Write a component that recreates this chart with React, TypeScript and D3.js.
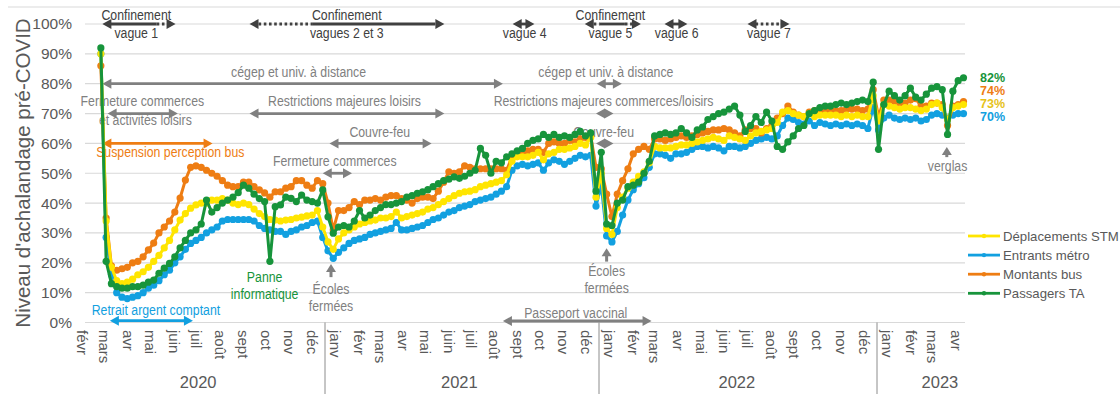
import React from "react";
import * as d3 from "d3";

// ---------- DATA ----------
const monthNames = ["janv", "févr", "mars", "avr", "mai", "juin", "juil", "août", "sept", "oct", "nov", "déc"];
const yearLabels = ["2020", "2021", "2022", "2023"];
const yearLabelDates = ["2020-07-17", "2021-06-29", "2022-07-01", "2023-03-25"];
const yearBreaks = ["2021-01-01", "2022-01-01", "2023-01-01"];
const yTicks = [0, 10, 20, 30, 40, 50, 60, 70, 80, 90, 100];
const firstWeek = "2020-03-10";
const seriesNames = ["Déplacements STM", "Entrants métro", "Montants bus", "Passagers TA"];

const deplacementsSTM = [
  90, 34, 18.5, 14, 13, 13.5, 14.5, 16, 17, 18.5,
  20.5, 22.5, 25, 27.5, 31, 34.3, 36.5, 38.3, 39.4, 40,
  40, 41, 41, 41.5, 41, 40, 39.5, 40, 39.5, 38,
  36.5, 35.5, 34.5, 34.3, 34, 34.3, 34.5, 35, 35.3, 35.7,
  36, 37.5, 32, 27, 24.5, 28, 30, 31, 32, 33,
  33.5, 34, 34.3, 35, 35, 35.5, 37, 35, 35.5, 36,
  36.5, 37, 38, 38.5, 39.5, 40.5, 41.5, 42.5, 43.3, 43.8,
  44, 44.5, 45.5, 46, 46.5, 47, 47.5, 49.5, 54, 55.5,
  55.5, 55.5, 56, 57, 54.5, 56.5, 57, 58, 58, 58.5,
  59, 60, 59.5, 62, 42, 50, 31.5, 29.5, 38.5, 42,
  45, 47, 49, 50.5, 53.5, 59, 58.5, 58.5, 58.5, 59,
  59.5, 59.5, 60, 60.5, 61, 61.5, 62, 61.5, 61, 62.5,
  62, 61.5, 61, 62.5, 63.5, 64, 64.5, 65, 67, 70.5,
  71, 70, 69.5, 69, 70, 69, 69.5, 69.5, 69.5, 69.5,
  69, 69.5, 69, 69.5, 69, 69, 76,
  67.5, 73, 72.5, 72, 71.5, 72, 72, 71.5, 71, 71.5, 73, 73.5, 72, 68, 72, 72.5, 73,
];

const entrantsMetro = [
  90, 28.5, 16, 10, 8.5, 8, 8.5, 9, 10, 11.5,
  12.5, 14, 16, 17.5, 20, 22, 24.5, 26.5, 27.5, 28.5,
  30, 31, 32, 34, 34.5, 34.5, 34.5, 34.5, 34.5, 34,
  32.5, 31.5, 31, 30.5, 30.5, 29.5, 30.5, 31, 32, 32.5,
  33.5, 34, 28.5, 24, 21.5, 23.5, 25, 26.5, 27.5, 28,
  28.5, 29.5, 30, 30.5, 31, 31.5, 33.5, 31, 31, 31.5,
  32, 32.5, 33.5, 34.5, 35, 36, 37, 37.5, 38.5, 39,
  39.5, 40.5, 41, 41.5, 42, 43, 44, 45.5, 51, 52.5,
  53, 52.5, 53, 53.5, 51, 53.5, 54.5, 54, 53, 54,
  55, 56, 55.5, 56, 39, 46, 29, 27, 30.5, 36,
  41, 44.5, 46.5, 48.5, 52, 56.5, 56.5, 56, 55, 56.5,
  56.5, 57, 58, 59, 59, 58.5, 59, 58.5, 57.5, 59,
  59, 58.5, 59, 60, 61, 61.5, 62, 61.5, 62.5, 66,
  68.5, 68, 67, 66.5, 67.5, 66, 67, 66.5, 66, 66.5,
  66, 66.5, 66, 66.5, 66, 65, 72,
  64.5, 68.5, 69.5, 68.5, 68, 68.5, 68, 68.5, 67.5, 68, 69.5, 70, 69.5, 68.5, 69.5, 70, 70,
];

const montantsBus = [
  86, 35, 19, 17.5, 18, 18.5, 20, 20.5, 22, 24.3,
  26.6, 30, 32, 34, 37, 41.7, 47.7, 52, 52.5, 52,
  51, 50, 49, 47.5, 46, 45.5, 45.5, 47, 47, 45.5,
  44.4, 43.4, 42, 43.8, 43.8, 45, 45.5, 47.5, 47.5, 46,
  45, 47.5, 46.5, 40, 31, 37.5, 37.5, 38.5, 40.5, 39.5,
  41, 41, 41.5, 41, 42, 42.5, 42.5, 41.5, 41, 40,
  41.5, 42, 42, 41.5, 44, 47, 50.5, 50, 50.5, 52.5,
  52, 51.5, 51.5, 51.5, 51.5, 51.5, 51.5, 51, 55.5, 56,
  57, 57.5, 58, 58, 57, 60, 60.5, 60, 60, 61,
  60.5, 61.5, 62, 62.5, 52, 51.5, 43, 35.5, 43, 47.5,
  51.5, 56.5, 58, 59, 58, 61.5, 61.5, 61, 61.5, 62,
  62.5, 62, 62.5, 63, 63.5, 64, 64.5, 64.5, 65, 64.5,
  63.5, 62.5, 64.5, 65, 65, 63.5, 65, 66, 68.5, 70,
  72.5, 70.5, 69.5, 69, 70.5, 71, 70.5, 71, 70.5, 71,
  71, 71.5, 71.5, 71.5, 71, 71.5, 78,
  69, 74.5, 74.5, 74, 73.5, 73.5, 74.5, 75, 72.5, 72.5, 73.5, 73.5, 73, 66, 72.5, 73, 74,
];

const passagersTA = [
  92, 20.5, 13, 12, 11.5, 11.5, 12, 12, 12.5, 13.5,
  14.2, 16.5, 18.2, 19.8, 22, 25, 27.5, 30, 31, 33,
  41, 37, 38.5, 40, 41, 42, 43.5, 46, 45, 43,
  41.5, 40.5, 20.5, 38.8, 39.4, 42, 41.6, 40.5, 42.7, 41,
  40.5, 40, 44.4, 35.4, 29.9, 32, 32.5, 32, 34, 37.5,
  35, 36, 37.5, 38.5, 39.5, 39.5, 40, 40.5, 42, 42.5,
  43.3, 43.8, 44.5, 45.5, 46.5, 47.5, 48, 48.8, 48.3, 49,
  50, 51, 58.3, 56, 50, 54, 53.5, 55.5, 56.5, 57.5,
  58.3, 60, 61, 61.5, 63, 62, 63, 62, 62.5, 62,
  63, 64, 62.5, 63.5, 44, 57, 33, 32.5, 40, 41,
  45.5, 46, 47, 50, 54, 62.5, 63, 63.5, 63, 63.5,
  65, 63.5, 62, 64.5, 65.5, 68, 69, 70, 70.5, 71.5,
  72.5, 69.5, 64, 66, 69, 67, 70.5, 67.5, 59, 58,
  60.5, 62.5, 65, 66, 70, 71, 72, 72.5, 72.5, 73,
  73.5, 73, 73.5, 74, 74.5, 74, 80.5,
  58, 73, 77.5, 76, 74.5, 76, 78.5, 75.5, 74.5, 76.5, 78.5, 79, 78, 63, 77.5, 81, 82,
];

// ---------- ANNOTATIONS ----------
type Seg = [string, string, boolean];
type Arrow = { level: number; from: string; to: string; color: string; segs?: Seg[] };

const DARK = "#404040";
const GRAY = "#808080";
const C_YELLOW = "#FFE500";
const C_BLUE = "#12A0E0";
const C_ORANGE = "#EE7D13";
const C_GREEN = "#17943B";

const arrows: Arrow[] = [
  { level: 100, from: "2020-03-12", to: "2020-06-17", color: DARK, segs: [["2020-03-12", "2020-05-23", false], ["2020-05-23", "2020-06-05", true]] },
  { level: 100, from: "2020-09-23", to: "2021-06-09", color: DARK, segs: [["2020-10-05", "2020-12-16", true], ["2020-12-16", "2021-05-28", false]] },
  { level: 100, from: "2021-09-08", to: "2021-10-07", color: DARK },
  { level: 100, from: "2021-12-13", to: "2022-02-25", color: DARK, segs: [["2021-12-25", "2022-01-02", true], ["2022-01-02", "2022-02-04", false], ["2022-02-04", "2022-02-14", true]] },
  { level: 100, from: "2022-03-28", to: "2022-04-27", color: DARK },
  { level: 100, from: "2022-07-15", to: "2022-09-08", color: DARK, segs: [["2022-07-15", "2022-09-08", true]] },
  { level: 80, from: "2020-03-12", to: "2021-08-26", color: GRAY },
  { level: 80, from: "2021-12-29", to: "2022-01-31", color: GRAY },
  { level: 70, from: "2020-03-19", to: "2020-06-20", color: GRAY },
  { level: 70, from: "2020-09-23", to: "2021-06-09", color: GRAY },
  { level: 70, from: "2021-12-28", to: "2022-01-20", color: GRAY },
  { level: 60, from: "2021-01-07", to: "2021-05-23", color: GRAY },
  { level: 60, from: "2021-12-28", to: "2022-01-20", color: GRAY },
  { level: 50, from: "2020-12-29", to: "2021-02-06", color: GRAY },
  { level: 60, from: "2020-03-12", to: "2020-08-05", color: C_ORANGE },
  { level: 0.6, from: "2020-03-22", to: "2020-07-10", color: C_BLUE },
  { level: 0.5, from: "2021-08-26", to: "2022-03-11", color: GRAY },
];

const upArrows = [
  { date: "2021-01-09", tip: 19.6, base: 15.2 },
  { date: "2022-01-11", tip: 24.9, base: 20.4 },
  { date: "2023-04-03", tip: 58.8, base: 55.4 },
];

const notes = [
  { t: "Confinement", d: "2020-04-26", v: 103, c: DARK },
  { t: "vague 1", d: "2020-04-26", v: 97, c: DARK },
  { t: "Confinement", d: "2021-01-30", v: 103, c: DARK },
  { t: "vagues 2 et 3", d: "2021-01-30", v: 97, c: DARK },
  { t: "vague 4", d: "2021-09-24", v: 97, c: DARK },
  { t: "Confinement", d: "2022-01-16", v: 103, c: DARK },
  { t: "vague 5", d: "2022-01-16", v: 97, c: DARK },
  { t: "vague 6", d: "2022-04-13", v: 97, c: DARK },
  { t: "vague 7", d: "2022-08-12", v: 97, c: DARK },
  { t: "cégep et univ. à distance", d: "2020-11-27", v: 84, c: GRAY },
  { t: "cégep et univ. à distance", d: "2022-01-10", v: 84, c: GRAY },
  { t: "Fermeture commerces", d: "2020-05-04", v: 74.2, c: GRAY },
  { t: "et activités loisirs", d: "2020-05-08", v: 67.8, c: GRAY },
  { t: "Restrictions majeures loisirs", d: "2021-01-27", v: 74.2, c: GRAY },
  { t: "Restrictions majeures commerces/loisirs", d: "2022-01-07", v: 74.2, c: GRAY },
  { t: "Couvre-feu", d: "2021-03-15", v: 64, c: GRAY },
  { t: "Couvre-feu", d: "2022-01-07", v: 64, c: GRAY },
  { t: "Fermeture commerces", d: "2021-01-14", v: 54.1, c: GRAY },
  { t: "Suspension perception bus", d: "2020-06-10", v: 57.1, c: C_ORANGE },
  { t: "Panne", d: "2020-10-13", v: 15.2, c: C_GREEN },
  { t: "informatique", d: "2020-10-13", v: 9.5, c: C_GREEN },
  { t: "Écoles", d: "2021-01-09", v: 11.4, c: GRAY },
  { t: "fermées", d: "2021-01-09", v: 5.5, c: GRAY },
  { t: "Écoles", d: "2022-01-11", v: 17.4, c: GRAY },
  { t: "fermées", d: "2022-01-11", v: 11.5, c: GRAY },
  { t: "verglas", d: "2023-04-04", v: 52.4, c: GRAY },
  { t: "Retrait argent comptant", d: "2020-05-22", v: 4.4, c: C_BLUE },
  { t: "Passeport vaccinal", d: "2021-12-01", v: 3.3, c: GRAY },
];

// ---------- LAYOUT ----------
const W = 1120;
const H = 401;
const parse = d3.timeParse("%Y-%m-%d") as (s: string) => Date;

const x = d3
  .scaleTime()
  .domain([parse("2020-02-18"), parse("2021-01-01"), parse("2022-01-01"), parse("2023-01-01"), parse("2023-04-27")])
  .range([85, 325, 599, 877, 965]);
const y = d3.scaleLinear().domain([0, 100]).range([322.5, 24]);

const start = parse(firstWeek);
const dates = deplacementsSTM.map((_, i) => d3.timeDay.offset(start, 7 * i));

const series = [
  { name: seriesNames[0], values: deplacementsSTM, color: C_YELLOW, label: "#E6C21A" },
  { name: seriesNames[1], values: entrantsMetro, color: C_BLUE, label: C_BLUE },
  { name: seriesNames[2], values: montantsBus, color: C_ORANGE, label: C_ORANGE },
  { name: seriesNames[3], values: passagersTA, color: C_GREEN, label: C_GREEN },
];
const drawOrder = [1, 2, 0, 3];

const AXIS = "#595959";
const GRID = "#d9d9d9";
const FONT = "'Liberation Sans', Arial, sans-serif";

function HArrow({ a }: { a: Arrow }) {
  const hl = 9;
  const hw = 5;
  const x1 = x(parse(a.from));
  const x2 = x(parse(a.to));
  const yy = y(a.level);
  const segs: Seg[] = a.segs ?? [[a.from, a.to, false]];
  return (
    <g>
      {segs.map((s, i) => {
        const sx = Math.max(x(parse(s[0])), x1 + hl - 1);
        const ex = Math.min(x(parse(s[1])), x2 - hl + 1);
        if (ex <= sx) return null;
        return (
          <line key={i} x1={sx} x2={ex} y1={yy} y2={yy} stroke={a.color} strokeWidth={2.8}
            strokeDasharray={s[2] ? "2.6 2.6" : undefined} />
        );
      })}
      <polygon points={`${x1},${yy} ${x1 + hl},${yy - hw} ${x1 + hl},${yy + hw}`} fill={a.color} />
      <polygon points={`${x2},${yy} ${x2 - hl},${yy - hw} ${x2 - hl},${yy + hw}`} fill={a.color} />
    </g>
  );
}

export default function App() {
  const line = d3
    .line<number>()
    .x((_, i) => x(dates[i]))
    .y((d) => y(d));

  const months = d3.timeMonth.range(parse("2020-02-01"), parse("2023-05-01"));
  const endLabelY = [117, 103.6, 90.4, 77.4];

  return (
    <svg width={W} height={H} style={{ position: "absolute", left: 0, top: 0, background: "#fff" }} fontFamily={FONT}>
      <line x1={8} x2={W} y1={7} y2={7} stroke={GRID} strokeWidth={1} />
      {/* gridlines */}
      {yTicks.map((t) => (
        <g key={t}>
          <line x1={85} x2={965} y1={y(t)} y2={y(t)} stroke={GRID} strokeWidth={1.2} />
          <text x={72} y={y(t)} dy="0.35em" textAnchor="end" fontSize={15.5} fill={AXIS}>{`${t}%`}</text>
        </g>
      ))}
      <text transform={`translate(23,${173}) rotate(-90)`} textAnchor="middle" dy="0.35em" fontSize={20.5} fill={AXIS}>
        Niveau d'achalandage pré-COVID
      </text>

      {/* x axis month labels */}
      {months.map((m, i) => (
        <text key={i} transform={`translate(${x(d3.timeDay.offset(m, 14))},330) rotate(90)`} dy="0.35em"
          textAnchor="start" fontSize={15} fill={AXIS}>
          {monthNames[m.getMonth()]}
        </text>
      ))}
      {yearBreaks.map((d) => (
        <line key={d} x1={x(parse(d))} x2={x(parse(d))} y1={322.5} y2={394} stroke="#8c8c8c" strokeWidth={1} />
      ))}
      {yearLabels.map((yl, i) => (
        <text key={yl} x={x(parse(yearLabelDates[i]))} y={382} dy="0.35em" textAnchor="middle" fontSize={16.5} fill={AXIS}>
          {yl}
        </text>
      ))}

      {/* annotations */}
      {arrows.map((a, i) => (
        <HArrow key={i} a={a} />
      ))}
      {upArrows.map((u, i) => {
        const ux = x(parse(u.date));
        const ty = y(u.tip);
        const by = y(u.base);
        return (
          <g key={i}>
            <line x1={ux} x2={ux} y1={by} y2={ty + 6} stroke={GRAY} strokeWidth={3} />
            <polygon points={`${ux},${ty} ${ux - 5},${ty + 8} ${ux + 5},${ty + 8}`} fill={GRAY} />
          </g>
        );
      })}
      {notes.map((n, i) => (
        <text key={i} transform={`translate(${x(parse(n.d))},${y(n.v)}) scale(0.82,1)`} dy="0.35em"
          textAnchor="middle" fontSize={15} fill={n.c}>
          {n.t}
        </text>
      ))}

      {/* series */}
      {drawOrder.map((si) => {
        const s = series[si];
        return (
          <g key={s.name}>
            <path d={line(s.values) ?? ""} fill="none" stroke={s.color} strokeWidth={3} strokeLinejoin="round" />
            {s.values.map((v, i) => (
              <circle key={i} cx={x(dates[i])} cy={y(v)} r={3.6} fill={s.color} />
            ))}
          </g>
        );
      })}

      {/* end labels */}
      {[1, 0, 2, 3].map((si, k) => {
        const s = series[si];
        const last = s.values[s.values.length - 1];
        return (
          <text key={s.name} x={980} y={endLabelY[k]} dy="0.35em" fontSize={12.5} fontWeight="bold" fill={s.label}>
            {`${Math.round(last)}%`}
          </text>
        );
      })}

      {/* legend */}
      {series.map((s, i) => {
        const ly = 236 + i * 19.1;
        return (
          <g key={s.name}>
            <line x1={968} x2={1000} y1={ly} y2={ly} stroke={s.color} strokeWidth={2.8} />
            <circle cx={984} cy={ly} r={2.2} fill={s.color} />
            <text x={1003} y={ly} dy="0.35em" fontSize={13.2} fill={AXIS}>
              {s.name}
            </text>
          </g>
        );
      })}
    </svg>
  );
}
